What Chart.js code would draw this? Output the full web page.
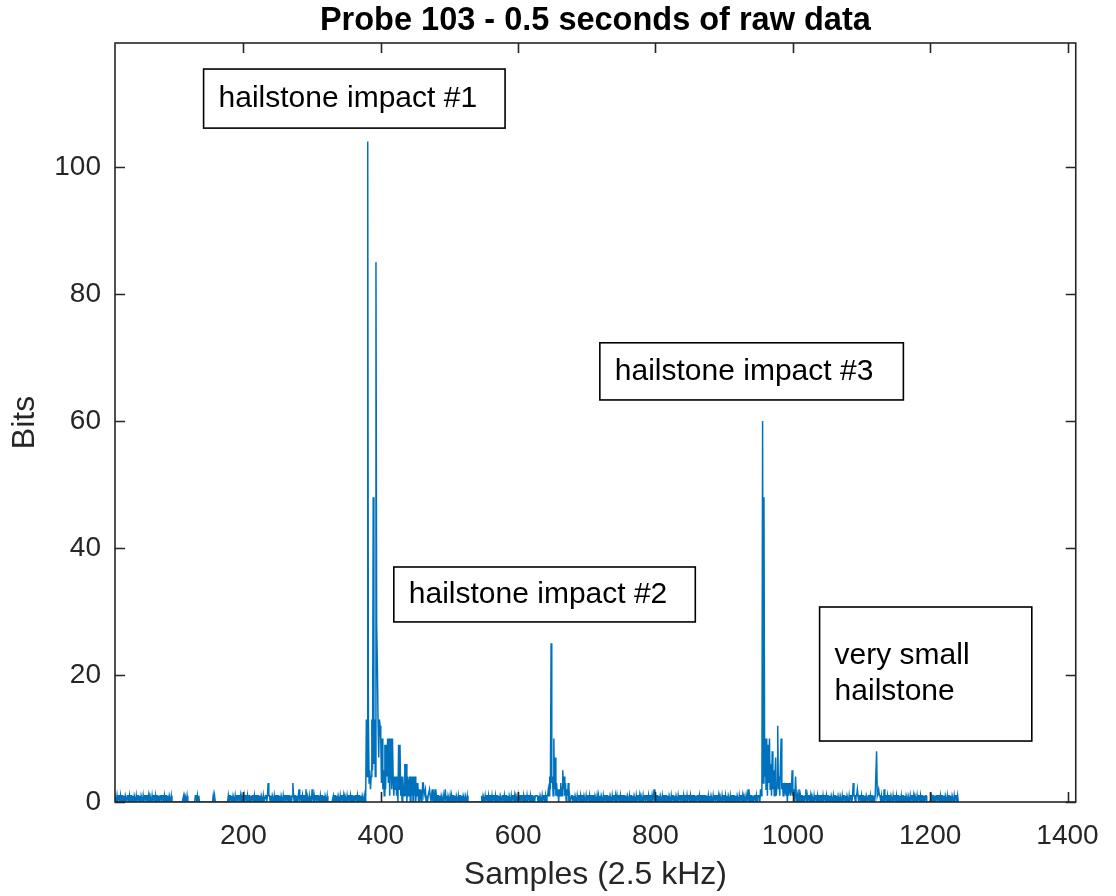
<!DOCTYPE html>
<html>
<head>
<meta charset="utf-8">
<script src="https://cdn.jsdelivr.net/npm/chart.js@4.4.1/dist/chart.umd.min.js"></script>
<style>
  html, body { margin: 0; padding: 0; background: #fff; }
</style>
</head>
<body>
<canvas id="chart-line" width="1116" height="896"></canvas>
<script>
// samples 1..1241, values in bits
var sampleCount = 1241;
var xTicks = [200, 400, 600, 800, 1000, 1200, 1400];
var yTicks = [0, 20, 40, 60, 80, 100];

// baseline noise (0/1), [first sample, digits]
var noiseRuns = [
    [1,    "1011010110101101011010110101101101011010" +
           "1101011010110101101101011010110101101011" +
           "01101011010110"],
    [95,   "100000000000000000" + "1011010" + "0000000000" + "1101010" +
           "0000000000000000000" + "101" + "0000000000000000000" + "1011010110101"],
    [191,  "1011010110101101011010110101101101011010" +
           "0110101101011010110110101101011011011010" +
           "1010110101101101011010110101011010110110" +
           "0101101011010000000010110101101011010110" +
           "101101011010110101101011010"],
    [481,  "1011010110" + "1011010110" + "1010110101" + "1010110101" + "101101"],
    [527,  "00000000000000000000"],
    [547,  "1011010110101101011010110101101101011010" +
           "1101011010110101101101011010110101101011" +
           "1101011010110101"],
    [677,  "0110101101011010110110101101011011011010" +
           "1010110101101101011010110101011010110110" +
           "1011010110101101011010110101101101011010" +
           "1101011010110101101101011010110101101011" +
           "0110101101011010110110101101011011011010" +
           "1010110101101101011010110101011010110110" +
           "1011010110101101011010110101101011"],
    [1011, "1011010110101101011010110101101101011010" +
           "1101011010110101101101011010110101101011" +
           "0110101101011010110110101101011011011010" +
           "1010110101101101011010110101011010110110" +
           "1011010110101101011010110000000101101011" +
           "0110101101011010110101101011010"]
];

// hailstone impacts, consecutive samples from a start sample
var impact1Start = 378;
var impact1 = [0, 13, 4, 104, 13, 3, 5, 2, 4, 13,
               5, 48, 6, 13, 4, 85, 28, 22, 13, 7,
               13, 12, 10, 3, 10, 2, 5, 1, 9, 2,
               9, 4, 10, 3, 10, 1, 6, 10, 2, 10,
               4, 1, 4, 2, 4, 1, 4, 0, 9, 2,
               9, 1, 4, 0, 4, 2, 1, 6, 1, 6,
               0, 4, 1, 3, 4, 0, 4, 1, 4, 0,
               4, 1, 4, 0, 3, 1, 3, 0, 2, 0,
               2, 1, 0, 3, 3, 1, 1, 2, 0, 1,
               0, 1, 1, 2, 1, 0, 1, 2, 0, 1,
               0, 2, 0];
var impact2Start = 643;
var impact2 = [1, 2, 1, 4, 2, 25, 3, 4, 1, 10, 2, 7, 1, 3, 1, 2, 0,
               2, 1, 3, 2, 1, 5, 2, 4, 1, 3, 0, 2, 1, 3, 0, 1, 0];
var impact3Start = 951;
var impact3 = [1, 0, 2, 1, 2, 60, 3, 48, 4, 10,
               2, 10, 1, 9, 3, 10, 2, 6, 1, 8,
               2, 5, 1, 4, 7, 1, 3, 12, 2, 4,
               1, 6, 10, 2, 3, 1, 3, 2, 3, 1,
               3, 0, 3, 1, 2, 3, 1, 2, 5, 1,
               2, 0, 1, 4, 1, 0, 1, 0, 2, 0];
// isolated small peaks [sample, value]
var smallPeaks = [[236, 3], [272, 3], [281, 2], [291, 2], [300, 2], [494, 2],
                  [798, 2], [935, 2], [1019, 2], [1088, 3], [1094, 2],
                  [1122, 8], [1125, 2], [1133, 2]];

// text boxes (data units)
var notes = [
    {x0: 142, x1: 581, yTop: 115.4, yBot: 106.1, lines: ["hailstone impact #1"]},
    {x0: 419, x1: 858, yTop: 37.0, yBot: 28.35, lines: ["hailstone impact #2"]},
    {x0: 719, x1: 1161, yTop: 72.3, yBot: 63.3, lines: ["hailstone impact #3"]},
    {x0: 1039, x1: 1348, yTop: 30.7, yBot: 9.6, lines: ["very small", "hailstone"]}
];

var values = new Array(sampleCount).fill(0);
noiseRuns.forEach(function(run){
    run[1].split('').forEach(function(ch, i){
        if (run[0] + i <= sampleCount) values[run[0] + i - 1] = +ch;
    });
});
[[impact1Start, impact1], [impact2Start, impact2], [impact3Start, impact3]].forEach(function(imp){
    imp[1].forEach(function(v, i){ values[imp[0] + i - 1] = v; });
});
smallPeaks.forEach(function(p){ values[p[0] - 1] = p[1]; });
var points = values.map(function(v, i){ return {x: i + 1, y: v}; });

var FONT = "'Liberation Sans', Arial, Helvetica, sans-serif";

var matlabBox = {
    id: 'matlabBox',
    afterDraw: function(chart){
        var ctx = chart.ctx, a = chart.chartArea;
        var xs = chart.scales.x, ys = chart.scales.y;
        ctx.save();
        ctx.strokeStyle = '#262626';
        ctx.lineWidth = 1.6;
        ctx.beginPath();
        xTicks.forEach(function(t){
            var px = Math.round(xs.getPixelForValue(t)) + 0.5;
            ctx.moveTo(px, a.bottom); ctx.lineTo(px, a.bottom - 10);
            ctx.moveTo(px, a.top); ctx.lineTo(px, a.top + 10);
        });
        yTicks.forEach(function(t){
            var py = Math.round(ys.getPixelForValue(t)) + 0.5;
            ctx.moveTo(a.left, py); ctx.lineTo(a.left + 10, py);
            ctx.moveTo(a.right, py); ctx.lineTo(a.right - 10, py);
        });
        ctx.stroke();
        ctx.strokeRect(a.left, a.top, a.right - a.left, a.bottom - a.top);

        // annotations
        ctx.font = '30px ' + FONT;
        ctx.textBaseline = 'middle';
        ctx.textAlign = 'left';
        notes.forEach(function(n){
            var l = xs.getPixelForValue(n.x0), r = xs.getPixelForValue(n.x1);
            var t = ys.getPixelForValue(n.yTop), b = ys.getPixelForValue(n.yBot);
            ctx.fillStyle = '#fff';
            ctx.fillRect(l, t, r - l, b - t);
            ctx.strokeStyle = '#000';
            ctx.lineWidth = 1.6;
            ctx.strokeRect(l, t, r - l, b - t);
            ctx.fillStyle = '#000';
            var lh = 36, mid = (t + b) / 2 - (n.lines.length - 1) * lh / 2;
            n.lines.forEach(function(s, i){ ctx.fillText(s, l + 15, mid + i * lh); });
        });
        ctx.restore();
    }
};

function load(){
    var ctx = document.getElementById("chart-line");
    var myLineChart = new Chart(ctx, {
        type: 'line',
        data: {
            datasets: [{
                data: points,
                xAxisID: 'x',
                yAxisID: 'y',
                borderColor: '#0072BD',
                borderWidth: 1.5,
                pointRadius: 0,
                fill: false,
                tension: 0
            }]
        },
        options: {
            responsive: false,
            animation: false,
            devicePixelRatio: 1,
            layout: { padding: { left: 0, right: 36, top: 0, bottom: 0 } },
            plugins: {
                legend: { display: false },
                tooltip: { enabled: false },
                title: { display: false }
            },
            scales: {
                x: {
                    type: 'linear',
                    position: 'bottom',
                    min: 13,
                    max: 1412,
                    grid: { display: false, drawTicks: false },
                    border: { display: false },
                    afterBuildTicks: function(s){ s.ticks = xTicks.map(function(v){ return {value: v}; }); },
                    afterFit: function(s){ s.height = 94; },
                    ticks: {
                        color: '#262626',
                        font: { family: FONT, size: 28 },
                        padding: 17,
                        maxRotation: 0,
                        autoSkip: false,
                        callback: function(v){ return String(v); }
                    },
                    title: {
                        display: true,
                        text: 'Samples (2.5 kHz)',
                        color: '#262626',
                        font: { family: FONT, size: 32 },
                        padding: { top: 0, bottom: 2 }
                    }
                },
                // top axis only carries the title so it centres over the plot box
                top: {
                    type: 'linear',
                    position: 'top',
                    min: 13,
                    max: 1412,
                    grid: { display: false, drawTicks: false },
                    border: { display: false },
                    ticks: { display: false },
                    afterFit: function(s){ s.height = 43; },
                    title: {
                        display: true,
                        text: 'Probe 103 - 0.5 seconds of raw data',
                        color: '#000',
                        font: { family: FONT, size: 32.5, weight: 'bold' },
                        padding: { top: 2, bottom: 0 }
                    }
                },
                y: {
                    min: 0,
                    max: 119.5,
                    grid: { display: false, drawTicks: false },
                    border: { display: false },
                    afterBuildTicks: function(s){ s.ticks = yTicks.map(function(v){ return {value: v}; }); },
                    afterFit: function(s){ s.width = 115; },
                    ticks: {
                        color: '#262626',
                        font: { family: FONT, size: 28 },
                        padding: 14,
                        callback: function(v){ return String(v); }
                    },
                    title: {
                        display: true,
                        text: 'Bits',
                        color: '#262626',
                        font: { family: FONT, size: 32 },
                        padding: { top: 6, bottom: 0 }
                    }
                }
            }
        },
        plugins: [matlabBox]
    });
}
load();
</script>
</body>
</html>
